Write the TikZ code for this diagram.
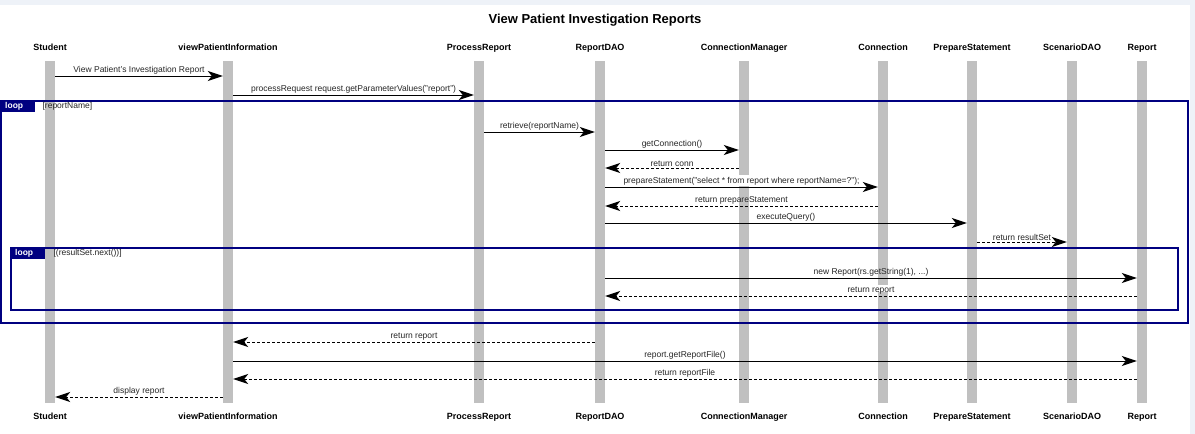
\documentclass[tikz,border=0pt]{standalone}
\usepackage{fontspec}
\setmainfont{Liberation Sans}
\usepackage{tikz}
\usetikzlibrary{arrows.meta,positioning}
\definecolor{seqbar}{HTML}{C0C0C0}
\definecolor{seqnavy}{HTML}{000080}
\definecolor{seqback}{HTML}{EEF2F8}

\begin{document}
\begin{tikzpicture}[
    x=1pt, y=-1pt,
    bar/.style={fill=seqbar, minimum width=10pt, minimum height=342pt, inner sep=0pt},
    pname/.style={font=\bfseries\fontsize{9}{11}\selectfont, anchor=base, inner sep=0pt},
    lbl/.style={above, inner sep=1pt, font=\fontsize{8.5}{10}\selectfont, text=black!85},
    msg/.style={-{Stealth[length=15pt, width=10pt, inset=4pt]}, line width=1pt, black},
    ret/.style={msg, dash pattern=on 3pt off 2pt},
    frame/.style={draw=seqnavy, line width=1.4pt},
    tab/.style={fill=seqnavy, text=white, font=\bfseries\fontsize{8.5}{9}\selectfont, anchor=north west,
                text width=26pt, align=left, inner xsep=4pt, inner ysep=0pt, minimum height=11pt},
    cond/.style={font=\fontsize{8.5}{10}\selectfont, inner sep=0pt, text=black!85}
  ]
  \useasboundingbox (0,0) rectangle (1195,434);
  \fill[seqback] (0,0) rectangle (1195,434);
  \fill[white] (0,5) rectangle (1190,434);
  \node[font=\bfseries\fontsize{13}{15}\selectfont] (title) at (595,20) {View Patient Investigation Reports};

  \node[bar] (stu) at (50,232) {};
  \node[bar] (vpi) at (228,232) {};
  \node[bar] (prc) at (479,232) {};
  \node[bar] (rdao) at (600,232) {};
  \node[bar] (cmgr) at (744,232) {};
  \node[bar] (conn) at (883,232) {};
  \node[bar] (pstm) at (972,232) {};
  \node[bar] (sdao) at (1072,232) {};
  \node[bar] (rep) at (1142,232) {};
  \fill[white] (cmgr.west |- 0,175) rectangle (cmgr.east |- 0,186);
  \fill[white] (conn.west |- 0,285) rectangle (conn.east |- 0,292);

  \node[pname] (stuT) at ([yshift=10pt]stu.north) {Student};
  \node[pname] (vpiT) at ([yshift=10pt]vpi.north) {viewPatientInformation};
  \node[pname] (prcT) at ([yshift=10pt]prc.north) {ProcessReport};
  \node[pname] (rdaoT) at ([yshift=10pt]rdao.north) {ReportDAO};
  \node[pname] (cmgrT) at ([yshift=10pt]cmgr.north) {ConnectionManager};
  \node[pname] (connT) at ([yshift=10pt]conn.north) {Connection};
  \node[pname] (pstmT) at ([yshift=10pt]pstm.north) {PrepareStatement};
  \node[pname] (sdaoT) at ([yshift=10pt]sdao.north) {ScenarioDAO};
  \node[pname] (repT) at ([yshift=10pt]rep.north) {Report};
  \node[pname] (stuB) at ([yshift=-16pt]stu.south) {Student};
  \node[pname] (vpiB) at ([yshift=-16pt]vpi.south) {viewPatientInformation};
  \node[pname] (prcB) at ([yshift=-16pt]prc.south) {ProcessReport};
  \node[pname] (rdaoB) at ([yshift=-16pt]rdao.south) {ReportDAO};
  \node[pname] (cmgrB) at ([yshift=-16pt]cmgr.south) {ConnectionManager};
  \node[pname] (connB) at ([yshift=-16pt]conn.south) {Connection};
  \node[pname] (pstmB) at ([yshift=-16pt]pstm.south) {PrepareStatement};
  \node[pname] (sdaoB) at ([yshift=-16pt]sdao.south) {ScenarioDAO};
  \node[pname] (repB) at ([yshift=-16pt]rep.south) {Report};

  \draw[frame] (1,101) rectangle (1188,323);
  \node[tab] (loopA) at (1,101) {loop};
  \node[cond, right=7pt of loopA] (condA) {[reportName]};
  \draw[frame] (11,248) rectangle (1178,310);
  \node[tab] (loopB) at (11,248) {loop};
  \node[cond, right=8pt of loopB] (condB) {[(resultSet.next())]};

  \draw[msg] (stu.east |- 0,76) -- node[lbl] {View Patient's Investigation Report} (vpi.west |- 0,76);
  \draw[msg] (vpi.east |- 0,95) -- node[lbl] {processRequest request.getParameterValues("report")} (prc.west |- 0,95);
  \draw[msg] (prc.east |- 0,132) -- node[lbl] {retrieve(reportName)} (rdao.west |- 0,132);
  \draw[msg] (rdao.east |- 0,150) -- node[lbl] {getConnection()} (cmgr.west |- 0,150);
  \draw[ret] (cmgr.west |- 0,168) -- node[lbl] {return conn} (rdao.east |- 0,168);
  \draw[msg] (rdao.east |- 0,187) -- node[lbl] {prepareStatement("select * from report where reportName=?");} (conn.west |- 0,187);
  \draw[ret] (conn.west |- 0,206) -- node[lbl] {return prepareStatement} (rdao.east |- 0,206);
  \draw[msg] (rdao.east |- 0,223) -- node[lbl] {executeQuery()} (pstm.west |- 0,223);
  \draw[ret] (pstm.east |- 0,242) -- node[lbl] {return resultSet} (sdao.west |- 0,242);
  \draw[msg] (rdao.east |- 0,278) -- node[lbl] {new Report(rs.getString(1), ...)} (rep.west |- 0,278);
  \draw[ret] (rep.west |- 0,296) -- node[lbl] {return report} (rdao.east |- 0,296);
  \draw[ret] (rdao.west |- 0,342) -- node[lbl] {return report} (vpi.east |- 0,342);
  \draw[msg] (vpi.east |- 0,361) -- node[lbl] {report.getReportFile()} (rep.west |- 0,361);
  \draw[ret] (rep.west |- 0,379) -- node[lbl] {return reportFile} (vpi.east |- 0,379);
  \draw[ret] (vpi.west |- 0,397) -- node[lbl] {display report} (stu.east |- 0,397);
\end{tikzpicture}
\end{document}
